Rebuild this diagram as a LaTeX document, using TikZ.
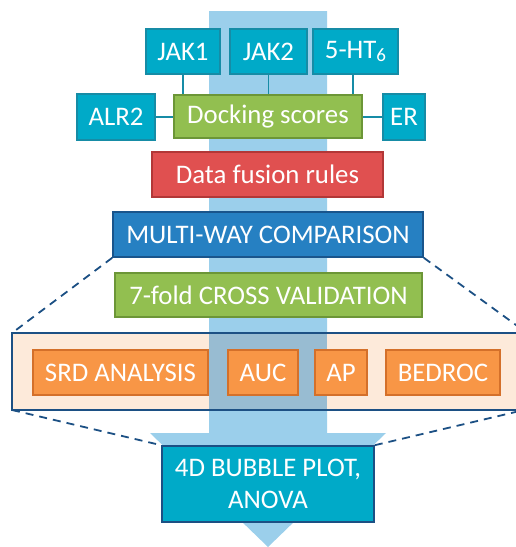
\documentclass[tikz,border=0pt]{standalone}
\usepackage{fontspec}
\setmainfont{Carlito}
\begin{document}
\begin{tikzpicture}[x=1pt,y=-1pt,
  box/.style={rectangle, draw, line width=1.6pt, text=white, inner sep=0pt,
    font=\fontsize{26.8}{32}\selectfont, anchor=center},
  tealbox/.style={box, fill=tealF, draw=tealD, minimum height=45pt},
  greenbox/.style={box, fill=greenF, draw=greenD},
  redbox/.style={box, fill=redF, draw=redD},
  bluebox/.style={box, fill=blueF, draw=blueD},
  orangebox/.style={box, fill=orangeF, draw=orangeD, minimum height=45pt},
  conn/.style={draw=tealD, line width=1.6pt},
  dash line/.style={draw=panelD, line width=1.8pt, dash pattern=on 8pt off 6pt},
]
\definecolor{tealF}{RGB}{0,170,200}
\definecolor{tealD}{RGB}{22,140,166}
\definecolor{greenF}{RGB}{146,191,80}
\definecolor{greenD}{RGB}{108,150,55}
\definecolor{redF}{RGB}{224,80,80}
\definecolor{redD}{RGB}{178,55,55}
\definecolor{blueF}{RGB}{38,128,194}
\definecolor{blueD}{RGB}{25,85,140}
\definecolor{orangeF}{RGB}{248,150,70}
\definecolor{orangeD}{RGB}{212,112,42}
\definecolor{peach}{RGB}{253,234,218}
\definecolor{panelD}{RGB}{28,80,132}
\definecolor{arrowF}{RGB}{155,207,235}
\definecolor{shaftP}{RGB}{152,188,210}

\clip (0,0) rectangle (516,547);

% big arrow
\fill[arrowF] (209,11) -- (327,11) -- (327,433) -- (386,433) -- (268,547) -- (150,433) -- (209,433) -- cycle;

% panel
\fill[peach] (12,333) rectangle (530,410);
\fill[shaftP] (209,333) rectangle (327,410);
\draw[panelD, line width=1.8pt] (530,333) -- (12,333) -- (12,410) -- (530,410);
\coordinate (ptl) at (12,333);
\coordinate (ptr) at (527,333);
\coordinate (pbl) at (12,410);
\coordinate (pbr) at (524,410);

% top boxes
\node[tealbox, minimum width=74pt] (jak1) at (183,51.5) {JAK1};
\node[tealbox, minimum width=77pt] (jak2) at (268.5,51.5) {JAK2};
\node[tealbox, minimum width=85pt] (ht6) at (355.5,51.5) {5-HT\raisebox{-0.12em}{\fontsize{19}{19}\selectfont 6}};
\node[tealbox, minimum width=78pt, minimum height=46pt] (alr2) at (116,117) {ALR2};
\node[greenbox, minimum width=188pt, minimum height=43pt] (dock) at (268,116.5) {Docking scores};
\node[tealbox, minimum width=42pt, minimum height=46pt] (er) at (404,117) {ER};

\draw[conn] (jak1.south) -- (jak1.south |- dock.north);
\draw[conn] (jak2.south) -- (jak2.south |- dock.north);
\draw[conn] ([xshift=-2.5pt]ht6.south) -- ([xshift=-2.5pt]ht6.south |- dock.north);
\draw[conn] (alr2.east) -- (alr2.east -| dock.west);
\draw[conn] (er.west) -- (er.west -| dock.east);

\node[redbox, minimum width=231pt, minimum height=45pt] (fusion) at (267.5,174.5) {Data fusion rules};
\node[bluebox, minimum width=310pt, minimum height=45pt] (multi) at (268,234.5) {MULTI-WAY COMPARISON};
\node[greenbox, minimum width=307pt, minimum height=44pt] (cv) at (268.5,295) {7-fold CROSS VALIDATION};

\node[orangebox, minimum width=175pt] (srd) at (120.5,372.5) {SRD ANALYSIS};
\node[orangebox, minimum width=70pt] (auc) at (263,372.5) {AUC};
\node[orangebox, minimum width=52pt] (ap) at (341,372.5) {AP};
\node[orangebox, minimum width=114pt] (bedroc) at (443,372.5) {BEDROC};

\node[box, fill=tealF, draw=panelD, minimum width=212pt, minimum height=76pt, align=center] (bubble) at (268,484) {4D BUBBLE PLOT,\\ANOVA};

\draw[dash line] (multi.south west) -- (ptl);
\draw[dash line] (multi.south east) -- (ptr);
\draw[dash line] (pbl) -- (bubble.north west);
\draw[dash line] (bubble.north east) -- (pbr);
\end{tikzpicture}
\end{document}
